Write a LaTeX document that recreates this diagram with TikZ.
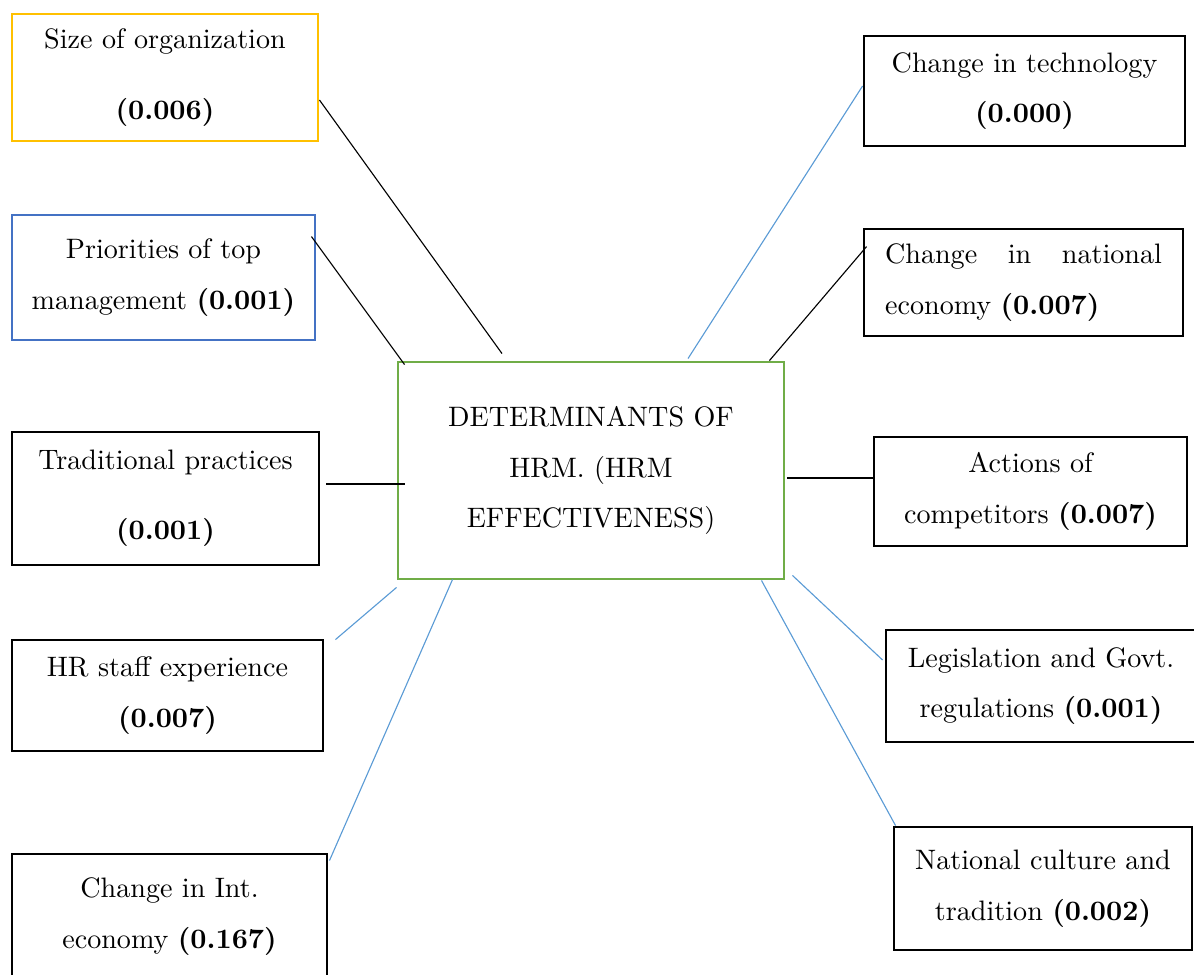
\documentclass[tikz,border=0pt]{standalone}
\usepackage{tikz}
\usetikzlibrary{calc}
\definecolor{boxyellow}{HTML}{FFC000}
\definecolor{boxblue}{HTML}{4472C4}
\definecolor{boxgreen}{HTML}{70AD47}
\definecolor{lineblue}{HTML}{5B9BD5}

\begin{document}
\begin{tikzpicture}[x=0.0125cm, y=-0.0125cm,
  every node/.style = {shape=rectangle, draw, line width=1pt,
    align=center, inner sep=0pt,
    font=\fontsize{10}{18}\selectfont},
  link/.style = {line width=0.4pt},
  bluelink/.style = {link, draw=lineblue}]
  \useasboundingbox (0,0) rectangle (1194,974);
  \node[draw=boxyellow, minimum width=3.825cm, minimum height=1.5875cm] (size) at (165,77.5)
    {Size of organization\\[7pt] \textbf{(0.006)}};
  \node[draw=boxblue, minimum width=3.7875cm, minimum height=1.5625cm] (prio) at (163.5,277.5)
    {Priorities of top\\ management \textbf{(0.001)}};
  \node[minimum width=3.8375cm, minimum height=1.6625cm] (trad) at (165.5,498.5)
    {Traditional practices\\[7pt] \textbf{(0.001)}};
  \node[minimum width=3.8875cm, minimum height=1.3875cm] (staff) at (167.5,695.5)
    {HR staff experience\\ \textbf{(0.007)}};
  \node[minimum width=3.9375cm, minimum height=1.5625cm] (inteco) at (169.5,916.5)
    {Change in Int.\\ economy \textbf{(0.167)}};
  \node[draw=boxgreen, minimum width=4.825cm, minimum height=2.7125cm] (hrm) at (591,470.5)
    {DETERMINANTS OF\\ HRM. (HRM\\ EFFECTIVENESS)};
  \node[minimum width=4.0125cm, minimum height=1.375cm] (tech) at (1024.5,91)
    {Change in technology\\ \textbf{(0.000)}};
  \node[minimum width=3.9875cm, minimum height=1.3375cm, text width=3.46cm, align=justify] (nateco) at (1023.5,282.5)
    {Change in national economy \textbf{(0.007)}};
  \node[minimum width=3.9125cm, minimum height=1.3625cm] (rivals) at (1030.5,491.5)
    {Actions of\\ competitors \textbf{(0.007)}};
  \node[minimum width=3.875cm, minimum height=1.4cm] (legis) at (1041,686)
    {Legislation and Govt.\\ regulations \textbf{(0.001)}};
  \node[minimum width=3.725cm, minimum height=1.5375cm] (culture) at (1043,888.5)
    {National culture and\\ tradition \textbf{(0.002)}};

  \draw[link] ($(size.east)+(0,22.5)$) -- ($(hrm.north)+(-89,-7)$);
  \draw[link] ($(prio.north east)+(-5,23)$) -- ($(hrm.north west)+(8,4)$);
  \draw[link] ($(trad.east)+(6,-14.5)$) -- ($(hrm.west)+(8,13.5)$);
  \draw[bluelink] ($(staff.north east)+(11,1)$) -- ($(hrm.south west)+(0,7)$);
  \draw[bluelink] ($(inteco.north east)+(1,8)$) -- ($(hrm.south west)+(56,-1)$);
  \draw[bluelink] ($(tech.west)+(0,-5)$) -- ($(hrm.north)+(97,-2)$);
  \draw[link] ($(nateco.north west)+(4,19)$) -- ($(hrm.north east)+(-16,0)$);
  \draw[link] ($(rivals.west)+(0,-13.5)$) -- ($(hrm.east)+(2,7.5)$);
  \draw[bluelink] ($(legis.west)+(-2,-26)$) -- ($(hrm.south east)+(7,-5)$);
  \draw[bluelink] ($(culture.north west)+(3,0)$) -- ($(hrm.south east)+(-24,0)$);
\end{tikzpicture}
\end{document}
